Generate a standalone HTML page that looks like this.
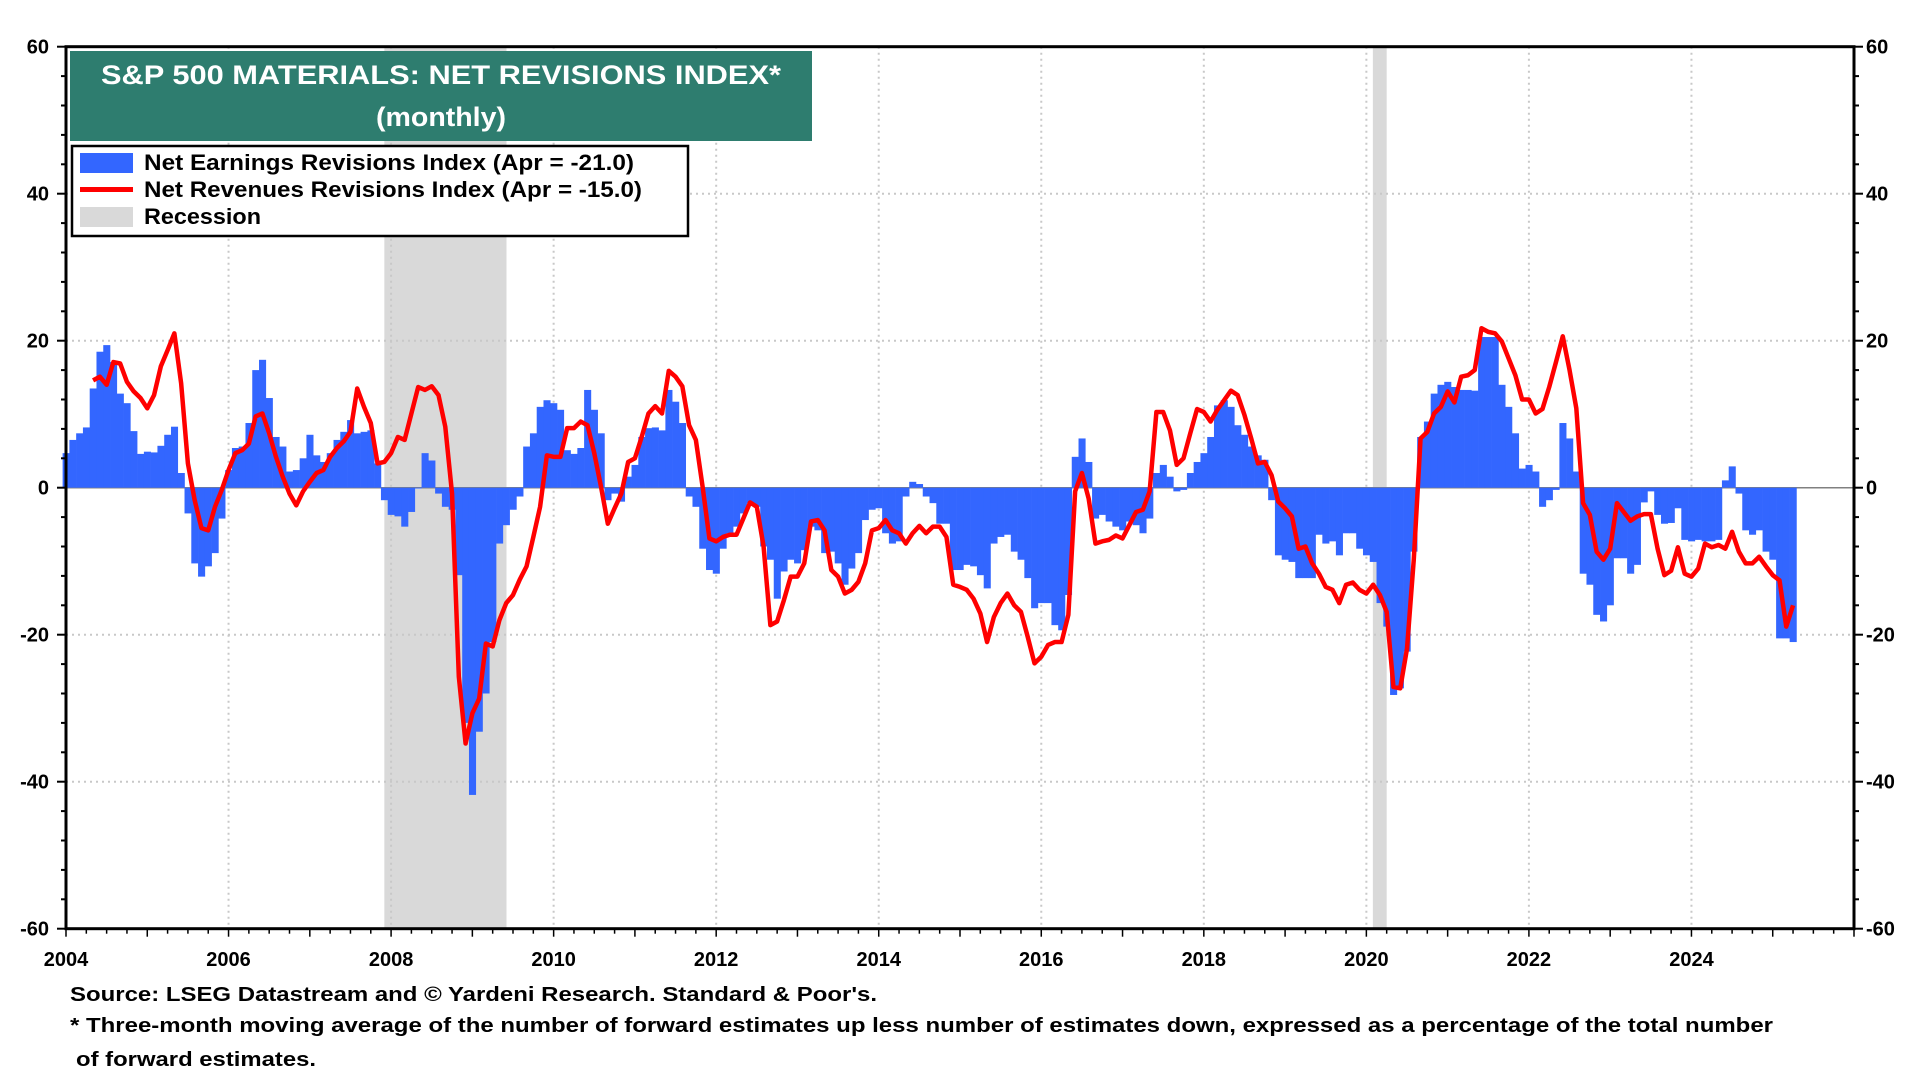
<!DOCTYPE html>
<html><head><meta charset="utf-8"><style>
html,body{margin:0;padding:0;background:#fff;}
svg{display:block;font-family:"Liberation Sans",Arial,sans-serif;}
</style></head><body>
<svg id="chart" width="1920" height="1080" viewBox="0 0 1920 1080" xmlns="http://www.w3.org/2000/svg">
<g id="bg"></g>
<g id="grid"></g>
<g id="bars"></g>
<g id="line"></g>
<g id="axes"></g>
<g>
<rect x="70" y="51" width="742" height="90" fill="#2e7d6f"/>
<text x="441" y="84" text-anchor="middle" fill="#fff" font-size="27" font-weight="bold" textLength="680" lengthAdjust="spacingAndGlyphs">S&amp;P 500 MATERIALS: NET REVISIONS INDEX*</text>
<text x="441" y="126" text-anchor="middle" fill="#fff" font-size="27" font-weight="bold" textLength="130" lengthAdjust="spacingAndGlyphs">(monthly)</text>
</g>
<g>
<rect x="72" y="146" width="616" height="90" fill="#fff" stroke="#000" stroke-width="2.5"/>
<g>
<rect x="80" y="153" width="53" height="20" fill="#3366ff"/>
<text x="144" y="170" font-size="22" font-weight="bold" textLength="490" lengthAdjust="spacingAndGlyphs">Net Earnings Revisions Index (Apr  = -21.0)</text>
</g>
<g>
<rect x="80" y="187" width="53" height="5" fill="#ff0000"/>
<text x="144" y="197" font-size="22" font-weight="bold" textLength="498" lengthAdjust="spacingAndGlyphs">Net Revenues Revisions Index (Apr  = -15.0)</text>
</g>
<g>
<rect x="80" y="207" width="53" height="20" fill="#d9d9d9"/>
<text x="144" y="224" font-size="22" font-weight="bold" textLength="117" lengthAdjust="spacingAndGlyphs">Recession</text>
</g>
</g>
<g>
<text x="70" y="1001" font-size="20" font-weight="bold" textLength="807" lengthAdjust="spacingAndGlyphs">Source: LSEG Datastream and © Yardeni Research. Standard &amp; Poor's.</text>
<text x="70" y="1032" font-size="20" font-weight="bold" textLength="1703" lengthAdjust="spacingAndGlyphs">* Three-month moving average of the number of forward estimates up less number of estimates down, expressed as a percentage of the total number</text>
<text x="76" y="1066" font-size="20" font-weight="bold" textLength="240" lengthAdjust="spacingAndGlyphs">of forward estimates.</text>
</g>
</svg>
<script>
const yTickValues = [60, 40, 20, 0, -20, -40, -60];
const yearLabels = ["2004","2006","2008","2010","2012","2014","2016","2018","2020","2022","2024"];
const recessionStarts = [2007.917, 2020.08];
const recessionEnds = [2009.42, 2020.25];
const earnings = [
4.7,6.5,7.4,8.2,13.5,18.5,19.4,17.1,12.8,11.5,
7.7,4.6,4.9,4.8,5.7,7.2,8.3,2,-3.5,-10.3,
-12.1,-10.7,-8.9,-4.2,2.4,5.4,5.6,8.8,16,17.4,
12.2,6.9,5.6,2.2,2.4,4,7.2,4.4,3.5,4.7,
6.5,7.6,9.2,7.4,7.6,7.8,3.3,-1.7,-3.7,-3.9,
-5.3,-3.3,0,4.7,3.7,-0.8,-2.6,-3,-11.9,-32,
-41.8,-33.2,-28,-21,-7.6,-5.1,-3,-1.2,5.6,7.4,11,
11.9,11.5,10.6,5.1,4.6,5.4,13.3,10.6,7.4,-1.7,
-0.8,-1.9,1.5,3.1,6.9,8.1,8.2,7.8,13.3,11.7,
8.8,-1.2,-2.6,-8.3,-11.2,-11.7,-8.3,-6.2,-5.3,-3.5,
-2.1,-2.6,-8,-9.8,-15.1,-11.4,-9.8,-10.3,-8.5,-5.3,
-5.8,-8.9,-8.7,-10.3,-13.2,-11,-8.9,-4.4,-3,-2.8,
-6.2,-7.6,-7.3,-1.2,0.8,0.5,-1.2,-2.1,-4.9,
-4.9,-11.2,-11.2,-10.5,-10.7,-11.9,
-13.7,-7.6,-6.7,-6.4,-8.7,-9.8,-12.3,-16.4,-15.7,-15.7,
-18.7,-19.4,-14.6,4.2,6.7,3.5,-4.2,-3.7,-4.6,-5.3,
-5.8,-4.6,-5.1,-6.2,-4.2,2,3.1,1.5,-0.5,-0.3,
2,3.5,4.7,6.9,11.2,11.9,11,8.5,7.2,5.6,
4.4,3.8,-1.7,-9.2,-9.8,-10.1,-12.3,-12.3,-12.3,-6.4,
-7.6,-7.3,-9.2,-6.2,-6.2,-8.3,-9.2,-10.1,-15.7,-18.9,
-28.2,-27.3,-22.3,-8.7,6.9,9,12.8,14,14.4,13.7,
13.3,13.3,13.2,20.5,20.5,20.5,14,11,7.4,2.6,
3.1,2.2,-2.6,-1.7,-0.3,8.8,6.7,2.2,-11.7,-13.2,
-17.3,-18.2,-16,-9.6,-9.6,-11.7,-10.5,-2,-0.5,-3.7,
-4.9,-4.8,-2.8,-7.1,-7.3,-7.1,-7.3,-7.3,-7.1,1,
2.9,-0.8,-5.8,-6.4,-5.8,-8.7,-9.8,-20.5,-20.5,-21
];
const revenuesStartMonth = 4;
const revenues = [
14.6,15.1,14,17.1,16.9,14.4,13.1,12.2,10.8,12.6,
16.5,18.7,21,14.2,3.3,-1.7,-5.5,-5.8,-2.6,-0.3,
2.4,4.7,5.1,6,9.7,10.1,7.4,4.2,1.5,-0.8,
-2.4,-0.5,0.8,2,2.4,4.2,5.4,6.3,7.6,13.5,
11,8.8,3.3,3.5,4.7,6.9,6.5,10.1,13.7,13.3,
13.8,12.6,8.3,-0.8,-25.7,-34.8,-30.7,-28.7,-21.2,-21.6,
-18,-15.7,-14.6,-12.5,-10.7,-6.7,-2.6,4.4,
4.2,4.2,8.1,8.1,9,8.5,4.7,0.1,-4.9,-2.8,
-0.8,3.5,4,6.9,10.1,11.1,10.1,15.9,15.1,13.8,
8.5,6.5,0.1,-6.9,-7.3,-6.7,-6.4,-6.4,-4.2,-2,
-2.6,-8,-18.7,-18.2,-15.3,-12.1,-12.1,-10.3,-4.6,-4.4,
-5.8,-11.2,-12.1,-14.4,-13.9,-12.8,-10.3,-5.8,-5.5,-4.4,
-5.8,-6.2,-7.6,-6.2,-5.2,-6.2,-5.3,-5.3,-6.7,-13.2,
-13.5,-13.9,-15.1,-17.1,
-21,-17.6,-15.7,-14.4,-16,-16.9,-20.3,-23.9,-23,-21.4,
-21,-21,-17.3,-0.5,2,-1.5,-7.6,-7.3,-7.1,-6.5,
-6.9,-5.1,-3.3,-3,-0.5,10.3,10.3,7.8,3.1,4,
7.4,10.7,10.3,9,10.6,11.9,13.2,12.6,9.9,6.7,
3.3,3.5,1.7,-1.9,-2.8,-3.9,-8.3,-8,-10.3,-11.7,
-13.5,-13.9,-15.7,-13.2,-12.9,-13.9,-14.4,-13.2,-14.6,-16.9,
-27.1,-27.3,-21.9,-9.8,6.7,7.6,10.1,
11,13.1,11.6,15.1,15.3,16,21.7,21.2,21,19.9,
17.6,15.3,12,12,10.1,10.7,13.7,17.1,20.6,16,
10.8,-2.1,-3.7,-8.7,-9.8,-8.3,-2.1,-3.3,-4.5,-3.9,
-3.6,-3.6,-8.3,-11.9,-11.3,-8.1,-11.7,-12.1,-11,-7.6,
-8.1,-7.8,-8.3,-6,-8.7,-10.3,-10.3,-9.4,-10.7,-11.9,
-12.6,-18.9,-16
];

const NS = "http://www.w3.org/2000/svg";
const L = 66, R = 1854, T = 46.7, B = 928.7;
const yearMin = 2004, yearMax = 2026, vMin = -60, vMax = 60;
function xYear(y){ return L + (y - yearMin) / (yearMax - yearMin) * (R - L); }
function xMonth(m){ return xYear(yearMin + m / 12); }
function yVal(v){ return B - (v - vMin) / (vMax - vMin) * (B - T); }
function mk(tag, attrs, parent){
  const e = document.createElementNS(NS, tag);
  for (const k in attrs) e.setAttribute(k, attrs[k]);
  parent.appendChild(e);
  return e;
}
const gBg = document.getElementById('bg');
const gGrid = document.getElementById('grid');
const gBars = document.getElementById('bars');
const gLine = document.getElementById('line');
const gAxes = document.getElementById('axes');

// recession shading
for (let i = 0; i < recessionStarts.length; i++) {
  const r = mk('rect', {x: xYear(recessionStarts[i]), y: T, width: xYear(recessionEnds[i]) - xYear(recessionStarts[i]), height: B - T, fill: '#d9d9d9'}, gBg);
  
  
}
// horizontal gridlines
yTickValues.forEach(v => {
  if (v === 0 || v === 60 || v === -60) return;
  const g = mk('line', {x1: L, x2: R, y1: yVal(v), y2: yVal(v), stroke: '#c8c8c8', 'stroke-width': 2, 'stroke-dasharray': '2,4'}, gGrid);
  
  
});
// vertical gridlines
yearLabels.forEach(lbl => {
  const yr = parseInt(lbl, 10);
  if (yr === yearMin) return;
  const g = mk('line', {x1: xYear(yr), x2: xYear(yr), y1: T, y2: B, stroke: '#c8c8c8', 'stroke-width': 2, 'stroke-dasharray': '2,4'}, gGrid);
  
  
});
// zero line
const zl = mk('line', {x1: L, x2: R, y1: yVal(0), y2: yVal(0), stroke: '#808080', 'stroke-width': 1.5}, gGrid);



// bars
const bw = (xMonth(1) - xMonth(0));
earnings.forEach((v, m) => {
  const x = xMonth(m) - bw / 2;
  const y0 = yVal(0), y1 = yVal(v);
  const b = mk('rect', {x: x, y: Math.min(y0, y1), width: bw + 0.3, height: Math.max(0.8, Math.abs(y1 - y0)), fill: '#3366ff'}, gBars);
  
  
});
// revenue line
const pts = revenues.map((v, i) => xMonth(i + revenuesStartMonth).toFixed(2) + ',' + yVal(v).toFixed(2)).join(' ');
const pl = mk('polyline', {points: pts, fill: 'none', stroke: '#ff0000', 'stroke-width': 4.5, 'stroke-linejoin': 'round'}, gLine);



// frame
const fr = mk('rect', {x: L, y: T, width: R - L, height: B - T, fill: 'none', stroke: '#000', 'stroke-width': 3}, gAxes);


// y ticks
for (let v = vMin; v <= vMax; v += 4) {
  const major = (v % 20 === 0);
  const len = major ? 9 : 5;
  mk('line', {x1: L - len, x2: L, y1: yVal(v), y2: yVal(v), stroke: '#000', 'stroke-width': 2}, gAxes);
  mk('line', {x1: R, x2: R + len, y1: yVal(v), y2: yVal(v), stroke: '#000', 'stroke-width': 2}, gAxes);
}
yTickValues.forEach(v => {
  const tl = mk('text', {x: 49, y: yVal(v) + 7, 'text-anchor': 'end', 'font-size': 20, 'font-weight': 'bold'}, gAxes);
  tl.textContent = String(v);
  
  
  const tr = mk('text', {x: 1866, y: yVal(v) + 7, 'text-anchor': 'start', 'font-size': 20, 'font-weight': 'bold'}, gAxes);
  tr.textContent = String(v);
  
  
});
// x ticks
for (let q = 0; q <= (yearMax - yearMin) * 4; q++) {
  const yr = yearMin + q / 4;
  const len = (q % 4 === 0) ? 8 : 5;
  mk('line', {x1: xYear(yr), x2: xYear(yr), y1: B, y2: B + len, stroke: '#000', 'stroke-width': 1.5}, gAxes);
}
yearLabels.forEach(lbl => {
  const t = mk('text', {x: xYear(parseInt(lbl, 10)), y: 966, 'text-anchor': 'middle', 'font-size': 20, 'font-weight': 'bold'}, gAxes);
  t.textContent = lbl;
  
  
});
</script>
</body></html>
